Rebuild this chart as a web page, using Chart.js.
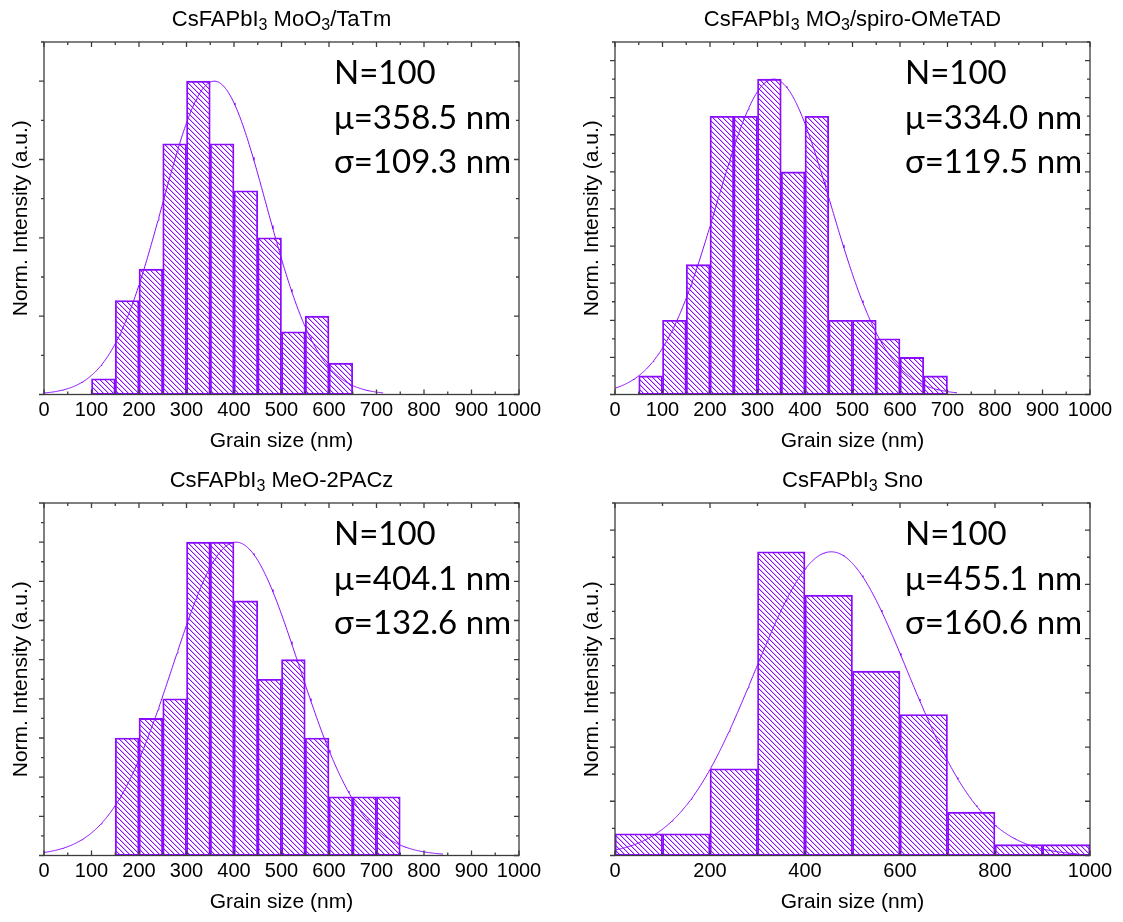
<!DOCTYPE html>
<html>
<head>
<meta charset="utf-8">
<script src="https://cdn.jsdelivr.net/npm/chart.js@4.4.1/dist/chart.umd.min.js"></script>
<style>
  html, body { margin: 0; padding: 0; background: #ffffff; }
  #figure { position: relative; width: 1123px; height: 922px; overflow: hidden; }
  .panel { position: absolute; }
  .panel canvas { display: block; }
</style>
</head>
<body>
<div id="figure">
  <div class="panel" style="left:0px;top:0px;width:561px;height:461px"><canvas id="p1"></canvas></div>
  <div class="panel" style="left:561px;top:0px;width:562px;height:461px"><canvas id="p2"></canvas></div>
  <div class="panel" style="left:0px;top:461px;width:561px;height:461px"><canvas id="p3"></canvas></div>
  <div class="panel" style="left:561px;top:461px;width:562px;height:461px"><canvas id="p4"></canvas></div>
</div>
<script>
// ---- grain-size histograms (bin left edges in nm, counts per bin) ----
const titles = ['CsFAPbI\u2083 MoO\u2083/TaTm', 'CsFAPbI\u2083 MO\u2083/spiro-OMeTAD', 'CsFAPbI\u2083 MeO-2PACz', 'CsFAPbI\u2083 Sno'];

const binsTaTm   = [100, 150, 200, 250, 300, 350, 400, 450, 500, 550, 600];
const countsTaTm = [1, 6, 8, 16, 20, 16, 13, 10, 4, 5, 2];

const binsSpiro   = [50, 100, 150, 200, 250, 300, 350, 400, 450, 500, 550, 600, 650];
const countsSpiro = [1, 4, 7, 15, 15, 17, 12, 15, 4, 4, 3, 2, 1];

const binsMeO   = [150, 200, 250, 300, 350, 400, 450, 500, 550, 600, 650, 700];
const countsMeO = [6, 7, 8, 16, 16, 13, 9, 10, 6, 3, 3, 3];

const binsSno   = [0, 100, 200, 300, 400, 500, 600, 700, 800, 900];
const countsSno = [2, 2, 8, 28, 24, 17, 13, 4, 1, 1];

const binWidths = [50, 50, 50, 100];

// ---- Gaussian fit results ----
const sampleN   = [100, 100, 100, 100];
const fitMu     = [358.5, 334.0, 404.1, 455.1];
const fitSigma  = [109.3, 119.5, 132.6, 160.6];
const fitPeak   = [20, 17, 16, 28];
const fitXEnd   = [715, 720, 840, 975];

// ---- axes ----
const xTickLabels = [
  ['0', '100', '200', '300', '400', '500', '600', '700', '800', '900', '1000'],
  ['0', '100', '200', '300', '400', '500', '600', '700', '800', '900', '1000'],
  ['0', '100', '200', '300', '400', '500', '600', '700', '800', '900', '1000'],
  ['0', '200', '400', '600', '800', '1000']
];
const xMajorStep = [100, 100, 100, 200];
const yMaxValues = [22.5, 19, 18, 32.5];
const yMajorStep = [5, 2, 2, 5];

const VIOLET = '#8a0cff';
const FRAME = '#3c3c3c';
const ARIAL = "'Liberation Sans', Arial, sans-serif";

// Pixel-exact diagonal hatch ("\" direction), anchored to the page origin so that
// all four panels share the same hatch phase.
function hatchPattern(canvas) {
  const s = 5;
  const c = document.createElement('canvas');
  c.width = s; c.height = s;
  const g = c.getContext('2d');
  for (let i = 0; i < s; i++) {
    g.fillStyle = VIOLET;
    g.globalAlpha = 1;
    g.fillRect(i, i, 1, 1);
    g.globalAlpha = 0.3;
    g.fillRect((i + 1) % s, i, 1, 1);
  }
  const pat = g.createPattern(c, 'repeat');
  const box = canvas.parentElement;
  pat.setTransform(new DOMMatrix().translate(-box.offsetLeft, -box.offsetTop));
  return pat;
}

// Panel heading centred over the plot; subscript digits are set smaller and lowered.
const panelTitle = {
  id: 'panelTitle',
  afterDraw(chart, args, opts) {
    const { ctx, chartArea: a } = chart;
    const mainFont = '22px ' + ARIAL;
    const subFont = '16px ' + ARIAL;
    const parts = [];
    for (const ch of opts.text) {
      const code = ch.codePointAt(0);
      const sub = code >= 0x2080 && code <= 0x2089;
      const t = sub ? String.fromCharCode(code - 0x2080 + 48) : ch;
      const last = parts[parts.length - 1];
      if (last && last.sub === sub) last.t += t; else parts.push({ t, sub });
    }
    ctx.save();
    ctx.fillStyle = '#000000';
    ctx.textBaseline = 'alphabetic';
    ctx.textAlign = 'left';
    let total = 0;
    parts.forEach(p => { ctx.font = p.sub ? subFont : mainFont; p.w = ctx.measureText(p.t).width; total += p.w; });
    let x = (a.left + a.right) / 2 - total / 2;
    const base = opts.baseline;
    parts.forEach(p => {
      ctx.font = p.sub ? subFont : mainFont;
      ctx.fillText(p.t, x, p.sub ? base + 4 : base);
      x += p.w;
    });
    ctx.restore();
  }
};

// Box frame with ticks: left ticks point outward, the other three sides point inward.
const frameTicks = {
  id: 'frameTicks',
  afterDatasetsDraw(chart, args, opts) {
    const { ctx, chartArea: a, scales: { x, y } } = chart;
    const MAJ = 5, MIN = 3;
    ctx.save();
    ctx.strokeStyle = FRAME;
    ctx.lineWidth = 1.3;
    ctx.beginPath();
    const seg = (x0, y0, x1, y1) => { ctx.moveTo(x0, y0); ctx.lineTo(x1, y1); };
    const xMinor = opts.xMajor / 2;
    for (let v = x.min; v <= x.max + 1e-9; v += xMinor) {
      const px = x.getPixelForValue(v);
      const isMajor = Math.abs(v / opts.xMajor - Math.round(v / opts.xMajor)) < 1e-6;
      const len = isMajor ? MAJ : MIN;
      seg(px, a.bottom, px, a.bottom - len);
      seg(px, a.top, px, a.top + len);
    }
    const yMinor = opts.yMajor / 2;
    for (let v = 0; v <= y.max + 1e-9; v += yMinor) {
      const py = y.getPixelForValue(v);
      const isMajor = Math.abs(v / opts.yMajor - Math.round(v / opts.yMajor)) < 1e-6;
      const len = isMajor ? MAJ : MIN;
      seg(a.left, py, a.left - len, py);
      seg(a.right, py, a.right - len, py);
    }
    ctx.stroke();
    ctx.strokeRect(a.left, a.top, a.right - a.left, a.bottom - a.top);
    ctx.restore();
  }
};

// Fit statistics written in the upper right of each plot.
const fitNotes = {
  id: 'fitNotes',
  afterDraw(chart, args, opts) {
    const { ctx, chartArea: a } = chart;
    ctx.save();
    ctx.fillStyle = '#000000';
    ctx.font = "33px Lato, 'Open Sans', sans-serif";
    ctx.textBaseline = 'alphabetic';
    ctx.textAlign = 'left';
    opts.lines.forEach((t, i) => ctx.fillText(t, a.left + 290, a.top + 42 + i * 44.5));
    ctx.restore();
  }
};

function buildPanel(canvasId, k, bins, counts, rightColumn) {
  const w = binWidths[k];
  const bars = bins.map((b, i) => ({ x: b + w / 2, y: counts[i] }));
  const curve = [];
  for (let xv = 0; xv <= fitXEnd[k]; xv += 2) {
    const z = (xv - fitMu[k]) / fitSigma[k];
    curve.push({ x: xv, y: fitPeak[k] * Math.exp(-0.5 * z * z) });
  }
  const labels = xTickLabels[k];
  const canvas = document.getElementById(canvasId);
  const box = canvas.parentElement;
  canvas.width = box.clientWidth;
  canvas.height = box.clientHeight;

  return new Chart(canvas, {
    type: 'bar',
    data: {
      datasets: [
        {
          type: 'line',
          data: curve,
          borderColor: VIOLET,
          borderWidth: 1,
          pointRadius: 0,
          tension: 0,
          order: 0
        },
        {
          type: 'bar',
          data: bars,
          backgroundColor: hatchPattern(canvas),
          borderColor: VIOLET,
          borderWidth: 1.2,
          borderSkipped: false,
          barPercentage: 1,
          categoryPercentage: 1,
          grouped: false,
          order: 1
        }
      ]
    },
    options: {
      responsive: false,
      animation: false,
      devicePixelRatio: 1,
      layout: { padding: { left: rightColumn ? 10 : 0, right: rightColumn ? 33 : 42, top: 42, bottom: 0 } },
      plugins: {
        legend: { display: false },
        tooltip: { enabled: false },
        title: { display: false },
        panelTitle: { text: titles[k], baseline: 25.5 },
        frameTicks: { xMajor: xMajorStep[k], yMajor: yMajorStep[k] },
        fitNotes: {
          lines: ['N=' + sampleN[k], '\u03bc=' + fitMu[k].toFixed(1) + ' nm', '\u03c3=' + fitSigma[k].toFixed(1) + ' nm']
        }
      },
      scales: {
        x: {
          type: 'linear',
          min: 0,
          max: 1000,
          offset: false,
          grid: { display: false, drawTicks: false },
          border: { display: false },
          ticks: {
            stepSize: xMajorStep[k],
            autoSkip: false,
            maxRotation: 0,
            padding: 4,
            color: '#000000',
            font: { family: ARIAL, size: 20 },
            callback: (v) => labels[Math.round(v / xMajorStep[k])]
          },
          title: {
            display: true,
            text: 'Grain size (nm)',
            color: '#000000',
            font: { family: ARIAL, size: 21 },
            padding: { top: 0, bottom: 7 }
          },
          afterFit: (s) => { s.height = 66.5; }
        },
        y: {
          min: 0,
          max: yMaxValues[k],
          grid: { display: false, drawTicks: false },
          border: { display: false },
          ticks: { display: false, stepSize: yMajorStep[k] / 2 },
          title: {
            display: true,
            text: 'Norm. Intensity (a.u.)',
            color: '#000000',
            font: { family: ARIAL, size: 21 },
            padding: { top: 9, bottom: 0 }
          },
          afterFit: (s) => { s.width = 44; }
        }
      }
    },
    plugins: [panelTitle, frameTicks, fitNotes]
  });
}

buildPanel('p1', 0, binsTaTm, countsTaTm, false);
buildPanel('p2', 1, binsSpiro, countsSpiro, true);
buildPanel('p3', 2, binsMeO, countsMeO, false);
buildPanel('p4', 3, binsSno, countsSno, true);
</script>
</body>
</html>
